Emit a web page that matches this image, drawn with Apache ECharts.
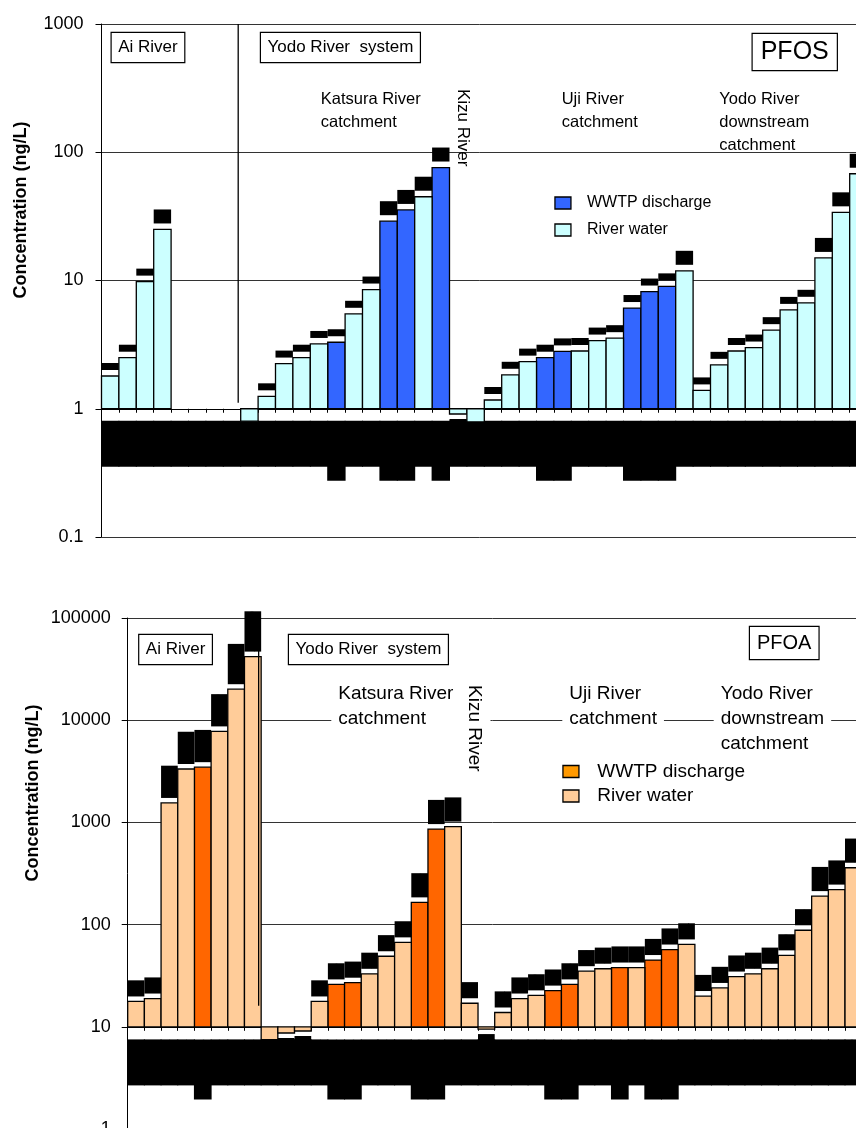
<!DOCTYPE html>
<html>
<head>
<meta charset="utf-8">
<script src="https://cdn.jsdelivr.net/npm/echarts@6/dist/echarts.min.js"></script>
<style>
html, body { margin: 0; padding: 0; background: #fff; }
#chart { width: 856px; height: 1128px; }
</style>
</head>
<body>
<div id="chart"></div>
<script>
// Sampling sites along the x axis (shared by both panels)
const sites = [
  'A-1', 'A-2', 'A-3', 'A-4', 'A-5', 'A-6', 'A-7', 'A-8',
  'K-1', 'K-2', 'K-3', 'K-4', 'K-5', 'K-6', 'K-7', 'K-8', 'K-9', 'K-10', 'K-11', 'K-12',
  'Z-1', 'Z-2',
  'U-1', 'U-2', 'U-3', 'U-4', 'U-5', 'U-6', 'U-7', 'U-8', 'U-9', 'U-10', 'U-11', 'U-12',
  'Y-1', 'Y-2', 'Y-3', 'Y-4', 'Y-5', 'Y-6', 'Y-7', 'Y-8', 'Y-9', 'Y-10'
];

// PFOS concentrations (ng/L)
const pfosWwtp = [
  null, null, null, null, null, null, null, null,
  null, null, null, null, null, 3.3, null, null, 29, 35.5, null, 76,
  null, null,
  null, null, null, 2.5, 2.8, null, null, null, 6.1, 8.2, 9.0, null,
  null, null, null, null, null, null, null, null, null, null
];
const pfosRiver = [
  1.8, 2.5, 9.8, 25, null, null, null, null,
  0.8, 1.25, 2.25, 2.5, 3.2, null, 5.5, 8.5, null, null, 45, null,
  0.91, 0.79,
  1.17, 1.84, 2.33, null, null, 2.82, 3.4, 3.55, null, null, null, 11.9,
  1.39, 2.2, 2.82, 3.0, 4.1, 5.9, 6.7, 15, 34, 68
];

// PFOA concentrations (ng/L)
const pfoaWwtp = [
  null, null, null, null, 3470, null, null, null,
  null, null, null, null, 26, 27, null, null, null, 165, 860, null,
  null, null,
  null, null, null, 22.6, 26, null, null, 38, null, 45, 57, null,
  null, null, null, null, null, null, null, null, null, null
];
const pfoaRiver = [
  17.7, 18.9, 1550, 3330, null, 7770, 20100, 41900,
  7.5, 8.7, 9.1, 17.7, null, null, 33, 49, 67, null, null, 910,
  17, 9.5,
  13.8, 18.9, 20.3, null, null, 35, 37, null, 38, null, null, 64,
  20, 24, 31, 33, 37, 50, 88, 190, 220, 360
];

// Value-axis ranges (log scale) and the value where the site axis crosses
const pfosRange = [0.1, 1000];
const pfoaRange = [1, 100000];
const pfosBase = 1;
const pfoaBase = 10;

const FONT = '"Liberation Sans", Arial, sans-serif';
const COLORS = {
  pfosW: '#3366FF', pfosR: '#CCFFFF',
  pfoaW: '#FF6600', pfoaR: '#FFCC99', pfoaWKey: '#FF9900'
};

function toPairs(arr) {
  const out = [];
  arr.forEach(function (v, i) { if (v != null) out.push([i, v]); });
  return out;
}

function fmtPfos(v) { return v >= 10 ? String(Math.round(v)) : v.toFixed(1); }
function fmtPfoa(v) { return String(Math.round(v)); }
function fmtTick(v) { return String(+(+v).toPrecision(6)); }

// Bars grow up or down from the crossing value; value labels sit at the bar end
function barRenderer(base, fill, rotatedLabel) {
  return function (params, api) {
    const i = api.value(0);
    const v = api.value(1);
    if (v == null || isNaN(v)) return;
    const end = api.coord([i, v]);
    const start = api.coord([i, base]);
    const w = api.size([1, 1])[0];
    const up = v >= base;
    const rect = {
      type: 'rect',
      shape: { x: end[0] - w / 2, y: Math.min(end[1], start[1]), width: w, height: Math.abs(start[1] - end[1]) },
      style: { fill: fill, stroke: '#000', lineWidth: 1.3 }
    };
    let label;
    if (rotatedLabel) {
      label = {
        type: 'text',
        x: end[0], y: up ? end[1] - 5 : end[1] + 5,
        rotation: Math.PI / 2,
        style: {
          text: fmtPfoa(v), font: '14.5px ' + FONT, fill: '#000', backgroundColor: '#000',
          lineHeight: w, align: up ? 'left' : 'right', verticalAlign: 'middle'
        }
      };
    } else {
      const big = v >= 10;
      label = {
        type: 'text',
        x: end[0], y: up ? end[1] - 6 : end[1] + 5,
        style: {
          text: fmtPfos(v), font: (big ? 12 : 7) + 'px ' + FONT, fill: '#000', backgroundColor: '#000',
          width: w, height: big ? 14 : 7, align: 'center', verticalAlign: up ? 'bottom' : 'top'
        }
      };
    }
    return { type: 'group', children: [rect, label] };
  };
}

// Site labels are set vertically in solid dark blocks; WWTP sites carry longer names
function siteAxis(gridIndex, offset, wwtp, thickness, margin) {
  return {
    type: 'category', gridIndex: gridIndex, data: sites, position: 'bottom', offset: offset,
    axisLine: { onZero: false, lineStyle: { color: '#000', width: 1 } },
    axisTick: { show: true, length: 4, lineStyle: { color: '#000', width: 1 } },
    splitLine: { show: false },
    axisLabel: {
      interval: 0, rotate: 90, margin: margin,
      formatter: function (name, idx) { return (wwtp[idx] != null ? '{w|' : '{r|') + name + '}'; },
      rich: {
        r: { width: 46, height: thickness, backgroundColor: '#000', color: '#000', fontSize: 11, fontFamily: FONT },
        w: { width: 60, height: thickness, backgroundColor: '#000', color: '#000', fontSize: 11, fontFamily: FONT }
      }
    }
  };
}

function concAxis(gridIndex, range, margin) {
  return {
    type: 'log', logBase: 10, gridIndex: gridIndex, min: range[0], max: range[1],
    axisLine: { show: true, lineStyle: { color: '#000', width: 1 } },
    axisTick: { show: true, length: 6, lineStyle: { color: '#000', width: 1 } },
    minorTick: { show: false },
    axisLabel: { fontSize: 18, color: '#000', fontFamily: FONT, margin: margin, formatter: fmtTick },
    splitLine: { show: true, lineStyle: { color: '#333', width: 1 } }
  };
}

function legendBox(left, top, fontSize, gap, textPad, wColor, rColor) {
  return {
    orient: 'vertical', left: left, top: top, padding: 0,
    itemWidth: 16, itemHeight: 12, itemGap: gap, selectedMode: false,
    textStyle: { fontSize: fontSize, color: '#000', fontFamily: FONT, padding: [0, 0, 0, textPad] },
    itemStyle: { borderColor: '#000', borderWidth: 1.3 },
    data: [
      { name: 'WWTP discharge', icon: 'rect', itemStyle: { color: wColor } },
      { name: 'River water', icon: 'rect', itemStyle: { color: rColor } }
    ]
  };
}

const chart = echarts.init(document.getElementById('chart'), null, { renderer: 'canvas' });

chart.setOption({
  animation: false,
  backgroundColor: '#fff',
  textStyle: { fontFamily: FONT },
  grid: [
    { left: 101.5, top: 24, width: 765.6, height: 513, outerBoundsMode: 'none', containLabel: false },
    { left: 127.7, top: 618, width: 734, height: 511, outerBoundsMode: 'none', containLabel: false }
  ],
  xAxis: [
    siteAxis(0, -513 / 4, pfosWwtp, 18.4, 12),
    siteAxis(1, -511 / 5, pfoaWwtp, 17.7, 12.6)
  ],
  yAxis: [
    concAxis(0, pfosRange, 18),
    concAxis(1, pfoaRange, 17)
  ],
  legend: [
    legendBox(554.3, 195, 16, 11, 11, COLORS.pfosW, COLORS.pfosR),
    legendBox(562.3, 762, 19, 5.5, 13.4, COLORS.pfoaWKey, COLORS.pfoaR)
  ],
  series: [
    { name: 'WWTP discharge', type: 'custom', xAxisIndex: 0, yAxisIndex: 0, clip: false,
      itemStyle: { color: COLORS.pfosW }, encode: { x: 0, y: 1 },
      renderItem: barRenderer(pfosBase, COLORS.pfosW, false), data: toPairs(pfosWwtp) },
    { name: 'River water', type: 'custom', xAxisIndex: 0, yAxisIndex: 0, clip: false,
      itemStyle: { color: COLORS.pfosR }, encode: { x: 0, y: 1 },
      renderItem: barRenderer(pfosBase, COLORS.pfosR, false), data: toPairs(pfosRiver) },
    { name: 'WWTP discharge', type: 'custom', xAxisIndex: 1, yAxisIndex: 1, clip: false,
      itemStyle: { color: COLORS.pfoaW }, encode: { x: 0, y: 1 },
      renderItem: barRenderer(pfoaBase, COLORS.pfoaW, true), data: toPairs(pfoaWwtp) },
    { name: 'River water', type: 'custom', xAxisIndex: 1, yAxisIndex: 1, clip: false,
      itemStyle: { color: COLORS.pfoaR }, encode: { x: 0, y: 1 },
      renderItem: barRenderer(pfoaBase, COLORS.pfoaR, true), data: toPairs(pfoaRiver) }
  ]
});

// Annotations: region names, compound tags, axis titles and the Ai/Yodo divider
function boxedText(x, y, text, size, lineHeight, pad) {
  return {
    type: 'text', x: x, y: y, z: 20,
    style: {
      text: text, font: size + 'px ' + FONT, fill: '#000', lineHeight: lineHeight,
      backgroundColor: '#fff', borderColor: '#000', borderWidth: 1.2, padding: pad,
      align: 'left', verticalAlign: 'top'
    }
  };
}
function plainText(x, y, text, size, lineHeight, whiteBg) {
  const style = { text: text, font: size + 'px ' + FONT, fill: '#000', lineHeight: lineHeight, align: 'left', verticalAlign: 'top' };
  if (whiteBg) { style.backgroundColor = '#fff'; style.padding = [0, 7]; }
  return { type: 'text', x: x, y: y, z: 20, style: style };
}
function axisTitle(x, y) {
  return {
    type: 'text', x: x, y: y, rotation: Math.PI / 2, z: 20,
    style: { text: 'Concentration (ng/L)', font: 'bold 18px ' + FONT, fill: '#000', align: 'center', verticalAlign: 'middle' }
  };
}
function kizu(x, y, size, whiteBg) {
  const style = { text: 'Kizu River', font: size + 'px ' + FONT, fill: '#000', align: 'left', verticalAlign: 'middle' };
  if (whiteBg) { style.backgroundColor = '#fff'; style.padding = [7, 0]; }
  return { type: 'text', x: x, y: y, rotation: -Math.PI / 2, z: 20, style: style };
}
function divider(axisIndex, topValue, bottomValue, bottomGap) {
  const x = (chart.convertToPixel({ xAxisIndex: axisIndex }, 7) + chart.convertToPixel({ xAxisIndex: axisIndex }, 8)) / 2 - 2.5;
  const y1 = chart.convertToPixel({ yAxisIndex: axisIndex }, topValue);
  const y2 = chart.convertToPixel({ yAxisIndex: axisIndex }, bottomValue) - bottomGap;
  return { type: 'line', z: 50, shape: { x1: x, y1: y1, x2: x, y2: y2 }, style: { stroke: '#000', lineWidth: 1.3 } };
}

chart.setOption({
  graphic: [
    // PFOS panel
    axisTitle(21, 210),
    boxedText(111.7, 33, 'Ai River', 17, 19, [5, 6.5]),
    boxedText(261, 33, 'Yodo River  system', 17, 19, [5, 6.5]),
    boxedText(752.7, 34, 'PFOS', 25, 28, [4, 8]),
    plainText(320.7, 87.5, 'Katsura River\ncatchment', 16.5, 23, false),
    plainText(561.7, 87.5, 'Uji River\ncatchment', 16.5, 23, false),
    plainText(719.3, 87.5, 'Yodo River\ndownstream\ncatchment', 16.5, 23, false),
    kizu(463, 89, 17, false),
    divider(0, pfosRange[1], pfosBase, 6),
    // PFOA panel
    axisTitle(33, 793),
    boxedText(139.3, 635, 'Ai River', 17, 19, [5, 6.5]),
    boxedText(289, 635, 'Yodo River  system', 17, 19, [5, 6.5]),
    boxedText(750, 627, 'PFOA', 20, 22, [5, 7]),
    plainText(331.3, 681.2, 'Katsura River\ncatchment', 19, 25, true),
    plainText(562.3, 681.2, 'Uji River\ncatchment', 19, 25, true),
    plainText(713.7, 681.2, 'Yodo River\ndownstream\ncatchment', 19, 25, true),
    kizu(474, 685, 19, true),
    divider(1, pfoaRange[1], pfoaBase, 21)
  ]
});
</script>
</body>
</html>
